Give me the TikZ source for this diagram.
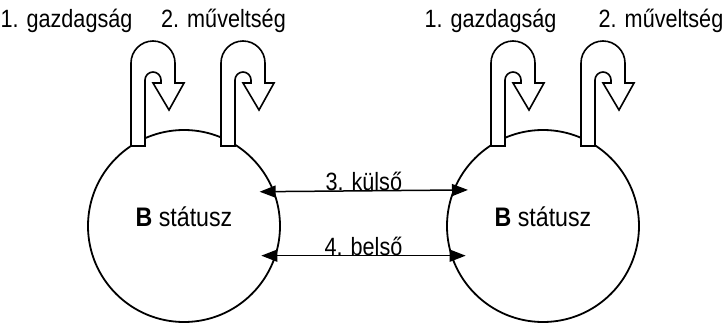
\documentclass[tikz,border=0pt]{standalone}
\usepackage{fontspec}
\setmainfont{Liberation Sans}[FakeStretch=0.865]
\usepackage{tikz}
\usetikzlibrary{arrows.meta}

\tikzset{
	allapot/.style={draw, circle, line width=0.9pt, minimum size=96pt, inner sep=0pt, outer sep=0pt,
		text height=8pt, text depth=8pt, font=\fontsize{13.4}{16}\selectfont},
	cimke/.style={anchor=base, inner sep=0pt, font=\fontsize{12.5}{15}\selectfont},
	kapcsolat/.style={{Triangle[length=8pt,width=6pt]}-{Triangle[length=8pt,width=6pt]},
		line width=0.75pt, shorten <=-7pt, shorten >=-7pt},
	hurok/.pic={
		\draw[line width=0.8pt, fill=white]
		(0,0) -- (0,-83) arc[start angle=180, end angle=360, radius=22]
		-- (44,-63) -- (53,-63) -- (38,-36) -- (22,-63) -- (30,-63) -- (30,-66)
		arc[start angle=0, end angle=-180, radius=8] -- (14,0) -- cycle;
	}
}

\begin{document}
\begin{tikzpicture}[x=0.5pt, y=-0.5pt]
		\useasboundingbox (0,0) rectangle (724,322);
		\draw
		node[allapot] at (184,226) (bal) {\textbf{B} státusz}
		node[allapot] at (543,226) (jobb) {\textbf{B} státusz}
		node[cimke] at (66.5,27) (balgazd) {1. gazdagság}
		node[cimke] at (223.5,27) (balmuv) {2. műveltség}
		node[cimke] at (490.5,27) (jobbgazd) {1. gazdagság}
		node[cimke] at (661,27) (jobbmuv) {2. műveltség};
		\pic at (131,146) {hurok};
		\pic at (221,146) {hurok};
		\pic at (491,146) {hurok};
		\pic at (581,146) {hurok};
		\draw[kapcsolat] (bal.21.4) -- (jobb.158.6) node[cimke, midway] (kulso) {3. külső};
		\draw[kapcsolat] (bal.-18.2) -- (jobb.198.2) node[cimke, midway] (belso) {4. belső};
	\end{tikzpicture}
\end{document}
